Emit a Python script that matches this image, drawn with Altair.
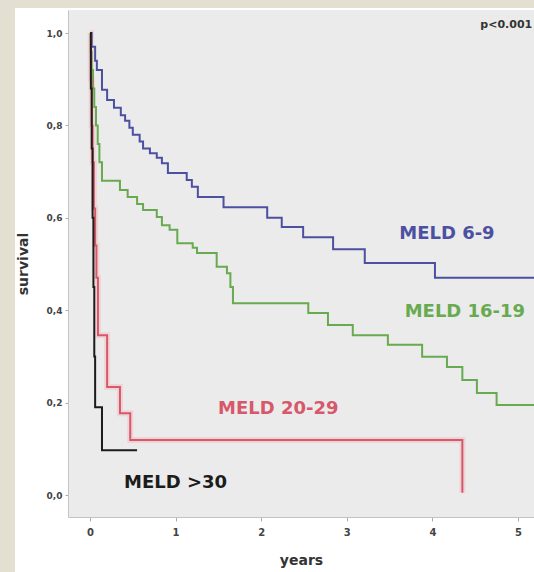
import altair as alt
import pandas as pd

# Kaplan-Meier step values (years, survival)
blue_t = [0, 0.02, 0.06, 0.08, 0.14, 0.2, 0.28, 0.36, 0.41, 0.46, 0.5, 0.58, 0.62, 0.7, 0.78,
          0.84, 0.91, 1.13, 1.19, 1.26, 1.56, 2.07, 2.24, 2.49, 2.84, 3.21, 4.03, 5.3]
blue_s = [1.0, 0.97, 0.94, 0.92, 0.877, 0.855, 0.838, 0.822, 0.81, 0.795, 0.78, 0.765, 0.75, 0.74,
          0.73, 0.718, 0.697, 0.682, 0.667, 0.645, 0.623, 0.60, 0.58, 0.558, 0.532, 0.502, 0.47, 0.47]

green_t = [0, 0.01, 0.02, 0.035, 0.05, 0.07, 0.09, 0.11, 0.14, 0.35, 0.44, 0.55, 0.62, 0.78, 0.84,
           0.93, 1.02, 1.2, 1.25, 1.48, 1.6, 1.64, 1.67, 2.55, 2.78, 3.07, 3.48, 3.88, 4.17, 4.35,
           4.52, 4.75, 5.3]
green_s = [1.0, 0.96, 0.92, 0.88, 0.84, 0.80, 0.76, 0.72, 0.68, 0.66, 0.645, 0.63, 0.617, 0.602,
           0.584, 0.574, 0.545, 0.535, 0.524, 0.494, 0.48, 0.45, 0.415, 0.394, 0.368, 0.346, 0.325,
           0.299, 0.277, 0.249, 0.221, 0.195, 0.195]

red_t = [0, 0.01, 0.02, 0.03, 0.045, 0.06, 0.075, 0.093, 0.2, 0.35, 0.47, 4.35, 4.35]
red_s = [1.0, 0.9, 0.8, 0.72, 0.62, 0.54, 0.47, 0.346, 0.234, 0.177, 0.119, 0.119, 0.005]

black_t = [0, 0.01, 0.02, 0.03, 0.04, 0.05, 0.06, 0.14, 0.55]
black_s = [1.0, 0.88, 0.75, 0.6, 0.45, 0.3, 0.19, 0.097, 0.097]

groups = ["MELD 6-9", "MELD 16-19", "MELD 20-29", "MELD >30"]
colors = ["#4c50a0", "#68aa50", "#d6586a", "#1c1c1c"]

label_x = [4.17, 4.38, 2.2, 1.0]
label_y = [0.565, 0.396, 0.186, 0.026]

rows = []
for g, ts, ss in zip(groups, [blue_t, green_t, red_t, black_t], [blue_s, green_s, red_s, black_s]):
    for i, (t, s) in enumerate(zip(ts, ss)):
        rows.append({"group": g, "t": t, "s": s, "order": i})
df = pd.DataFrame(rows)

labels = pd.DataFrame({"group": groups, "x": label_x, "y": label_y})
ptext = pd.DataFrame({"txt": ["p<0.001"], "x": [4.56], "y": [1.017]})

W, H = 466, 507
xs = alt.Scale(domain=[-0.257, 5.187], nice=False, zero=False)
ys = alt.Scale(domain=[-0.0476, 1.0498], nice=False, zero=False)
cs = alt.Scale(domain=groups, range=colors)
FONT = "DejaVu Sans"

frame = pd.DataFrame({"a": [0]})
left_strip = alt.Chart(frame).mark_rect(color="#e3dfd1", clip=False).encode(
    x=alt.value(-68), x2=alt.value(-53), y=alt.value(-10), y2=alt.value(562))
top_strip = alt.Chart(frame).mark_rect(color="#e3dfd1", clip=False).encode(
    x=alt.value(-68), x2=alt.value(W), y=alt.value(-10), y2=alt.value(-2))

base = alt.Chart(df).encode(
    x=alt.X("t:Q", scale=xs,
            axis=alt.Axis(values=[0, 1, 2, 3, 4, 5], title="years", grid=False, format="d",
                          labelFontSize=10, labelFontWeight="bold", labelColor="#444",
                          labelFont=FONT, labelPadding=6,
                          tickSize=4, tickColor="#aaa", domainColor="#c4c4c4",
                          titleFontSize=14, titleFont=FONT, titleFontWeight="bold",
                          titleColor="#333", titlePadding=16)),
    y=alt.Y("s:Q", scale=ys,
            axis=alt.Axis(values=[0, 0.2, 0.4, 0.6, 0.8, 1.0], title="survival", grid=False,
                          labelExpr="replace(format(datum.value, '.1f'), '.', ',')",
                          labelFontSize=9, labelFontWeight="bold", labelColor="#444",
                          labelFont=FONT, labelPadding=3,
                          tickSize=3, tickColor="#aaa", domainColor="#c4c4c4",
                          titleFontSize=14, titleFont=FONT, titleFontWeight="bold",
                          titleColor="#333", titlePadding=16)),
    detail="group:N",
    order="order:Q",
)

glow = base.transform_filter(alt.datum.group == "MELD 20-29").mark_line(
    interpolate="step-after", strokeWidth=6, color="#f4b8bd", opacity=0.45, clip=True)

lines = base.mark_line(interpolate="step-after", strokeWidth=2, clip=True).encode(
    color=alt.Color("group:N", scale=cs, legend=None))

texts = alt.Chart(labels).mark_text(fontSize=18, fontWeight="bold", font=FONT,
                                    align="center", baseline="middle").encode(
    x=alt.X("x:Q", scale=xs), y=alt.Y("y:Q", scale=ys),
    text="group:N",
    color=alt.Color("group:N", scale=cs, legend=None),
)

ptxt = alt.Chart(ptext).mark_text(fontSize=11, fontWeight="bold", font=FONT,
                                  align="left", baseline="middle", color="#333", clip=True).encode(
    x=alt.X("x:Q", scale=xs), y=alt.Y("y:Q", scale=ys), text="txt:N")

chart = alt.layer(left_strip, top_strip, glow, lines, texts, ptxt).properties(
    width=W, height=H,
    padding={"left": 68, "top": 10, "right": 0, "bottom": 55},
    autosize=alt.AutoSizeParams(type="none"),
    background="white",
).configure_view(fill="#ebebeb", strokeWidth=0)

chart.save("out.html", embed_options={"renderer": "svg", "actions": False})
